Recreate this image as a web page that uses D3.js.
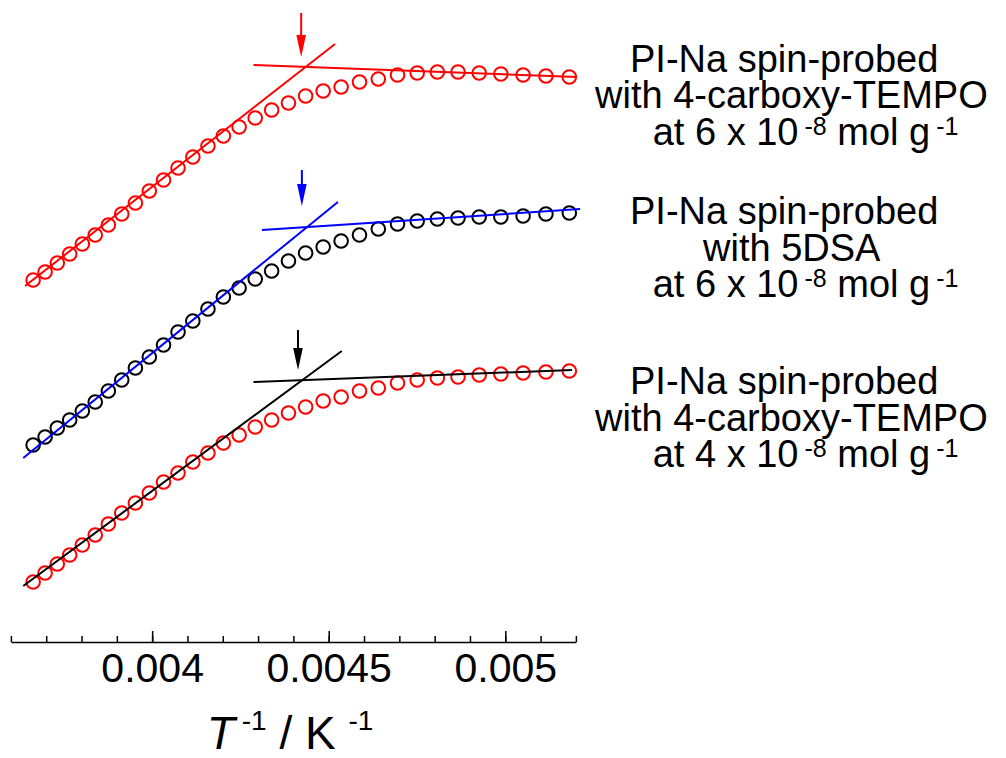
<!DOCTYPE html>
<html>
<head>
<meta charset="utf-8">
<script src="https://cdn.jsdelivr.net/npm/d3@7"></script>
<style>
  body { margin: 0; background: #fff; }
  svg text { font-family: "Liberation Sans", Arial, sans-serif; fill: #000; }
</style>
</head>
<body>
<svg id="svg" width="1006" height="758"></svg>
<script>
// temperatures (K), equal 2.5 K steps, plotted as 1/T
const temps = [273, 270.5, 268, 265.5, 263, 260.5, 258, 255.5, 253, 250.5,
  248, 245.5, 243, 240.5, 238, 235.5, 233, 230.5, 228, 225.5,
  223, 220.5, 218, 215.5, 213, 210.5, 208, 205.5, 203, 200.5,
  198, 195.5, 193];

// shifted signal (arbitrary units) for each sample
const tempo6 = [3.62, 3.70, 3.79, 3.88, 3.98, 4.07, 4.17, 4.28, 4.39, 4.51,
  4.62, 4.74, 4.85, 4.96, 5.06, 5.15, 5.24, 5.32, 5.39, 5.46,
  5.51, 5.55, 5.60, 5.63, 5.67, 5.69, 5.70, 5.70, 5.69, 5.68,
  5.67, 5.66, 5.65];
const dsa6 = [1.97, 2.05, 2.14, 2.22, 2.31, 2.40, 2.51, 2.62, 2.74, 2.85,
  2.97, 3.10, 3.21, 3.33, 3.45, 3.54, 3.63, 3.71, 3.81, 3.89,
  3.95, 4.01, 4.07, 4.13, 4.18, 4.21, 4.23, 4.24, 4.25, 4.25,
  4.26, 4.28, 4.29];
const tempo4 = [0.60, 0.69, 0.78, 0.87, 0.97, 1.07, 1.18, 1.29, 1.39, 1.49,
  1.60, 1.69, 1.80, 1.89, 1.99, 2.07, 2.15, 2.22, 2.29, 2.35,
  2.41, 2.45, 2.51, 2.54, 2.59, 2.62, 2.64, 2.65, 2.67, 2.68,
  2.69, 2.70, 2.71];

// linear fits [[1/T, value], [1/T, value]]
const tempo6Low = [[0.003640, 3.56], [0.004518, 5.98]];
const tempo6High = [[0.004287, 5.77], [0.005203, 5.65]];
const dsa6Low = [[0.003635, 1.84], [0.004526, 4.40]];
const dsa6High = [[0.004311, 4.12], [0.005212, 4.33]];
const tempo4Low = [[0.003635, 0.56], [0.004537, 2.91]];
const tempo4High = [[0.004287, 2.60], [0.005189, 2.72]];

// arrows [1/T, top value, tip value]
const tempo6Arrow = [0.004422, 6.29, 5.85];
const dsa6Arrow = [0.004424, 4.72, 4.36];
const tempo4Arrow = [0.004413, 3.12, 2.72];

// axis ticks
const majorTicks = [0.004, 0.0045, 0.005];
const majorLabels = ["0.004", "0.0045", "0.005"];
const minorTicks = d3.range(36, 53).map((d) => d / 10000);

let svg = d3.select("#svg");

let x = d3.scaleLinear().domain([0.0036, 0.0052]).range([10.9, 575.9]);
let y = d3.scaleLinear().domain([0, 6.42]).range([642, 0]);

let series = [
  { values: tempo6, dot: "#ff0000", line: "#ff0000", fits: [tempo6Low, tempo6High], arrow: tempo6Arrow },
  { values: dsa6, dot: "#000000", line: "#0000ff", fits: [dsa6Low, dsa6High], arrow: dsa6Arrow },
  { values: tempo4, dot: "#ff0000", line: "#000000", fits: [tempo4Low, tempo4High], arrow: tempo4Arrow },
];

let lineGen = d3.line()
  .x((d) => x(d[0]))
  .y((d) => y(d[1]));

series.forEach((s) => {
  // open circles
  svg.append("g")
    .selectAll("circle")
    .data(s.values)
    .enter()
    .append("circle")
    .attr("cx", (d, i) => x(1 / temps[i]))
    .attr("cy", (d) => y(d))
    .attr("r", 6.8)
    .style("fill", "none")
    .style("stroke", s.dot)
    .style("stroke-width", 2);

  // fit lines on top of circles
  svg.append("g")
    .selectAll("path")
    .data(s.fits)
    .enter()
    .append("path")
    .attr("d", lineGen)
    .style("fill", "none")
    .style("stroke", s.line)
    .style("stroke-width", 2);

  // arrow pointing at the crossing
  let ax = x(s.arrow[0]);
  let top = y(s.arrow[1]);
  let tip = y(s.arrow[2]);
  svg.append("line")
    .attr("x1", ax).attr("x2", ax)
    .attr("y1", top).attr("y2", tip - 18)
    .style("stroke", s.line)
    .style("stroke-width", 2);
  svg.append("path")
    .attr("d", `M${ax - 4.8},${tip - 22}L${ax + 4.8},${tip - 22}L${ax},${tip}Z`)
    .style("fill", s.line);
});

// bottom axis: minor ticks then major ticks with labels
let minorAxis = d3.axisBottom(x)
  .tickValues(minorTicks)
  .tickSizeInner(-6)
  .tickSizeOuter(0)
  .tickFormat("");
let majorAxis = d3.axisBottom(x)
  .tickValues(majorTicks)
  .tickSizeInner(-11)
  .tickSizeOuter(0)
  .tickPadding(11)
  .tickFormat((d, i) => majorLabels[i]);

let gMinor = svg.append("g").attr("transform", `translate(0,${y(0)})`).call(minorAxis);
let gMajor = svg.append("g").attr("transform", `translate(0,${y(0)})`).call(majorAxis);
[gMinor, gMajor].forEach((g) => {
  g.selectAll("line").style("stroke", "#000").style("stroke-width", 1.5);
  g.select(".domain").style("stroke", "#000").style("stroke-width", 1.5);
});
gMajor.select(".domain").remove();
gMajor.selectAll("text")
  .style("font-family", "'Liberation Sans', Arial, sans-serif")
  .style("font-size", "41px");

// axis title
let title = svg.append("text")
  .attr("x", 290)
  .attr("y", 749)
  .attr("text-anchor", "middle")
  .style("font-size", "46px");
title.append("tspan").style("font-style", "italic").text("T");
title.append("tspan").attr("dx", 7).attr("dy", -19).style("font-size", "28px").text("-1");
title.append("tspan").attr("dy", 19).text(" / K ");
title.append("tspan").attr("dy", -19).style("font-size", "28px").text("-1");

// right-hand labels
let labels = [
  { lines: ["PI-Na spin-probed", "with 4-carboxy-TEMPO"], xs: [630, 595], conc: "6", cx: 652.7, base: 71.7 },
  { lines: ["PI-Na spin-probed", "with 5DSA"], xs: [630, 703], conc: "6", cx: 652.7, base: 224 },
  { lines: ["PI-Na spin-probed", "with 4-carboxy-TEMPO"], xs: [630, 595], conc: "4", cx: 652.7, base: 394 },
];

labels.forEach((lab) => {
  lab.lines.forEach((t, i) => {
    svg.append("text")
      .attr("x", lab.xs[i])
      .attr("y", lab.base + i * 36.7)
      .style("font-size", "38px")
      .text(t);
  });
  let t3 = svg.append("text")
    .attr("x", lab.cx)
    .attr("y", lab.base + 2 * 36.7)
    .style("font-size", "38px");
  t3.append("tspan").text(`at ${lab.conc} x 10`);
  t3.append("tspan").attr("dx", 6).attr("dy", -10).style("font-size", "25px").text("-8");
  t3.append("tspan").attr("dy", 10).text(" mol g");
  t3.append("tspan").attr("dx", 6).attr("dy", -10).style("font-size", "25px").text("-1");
});
</script>
</body>
</html>
